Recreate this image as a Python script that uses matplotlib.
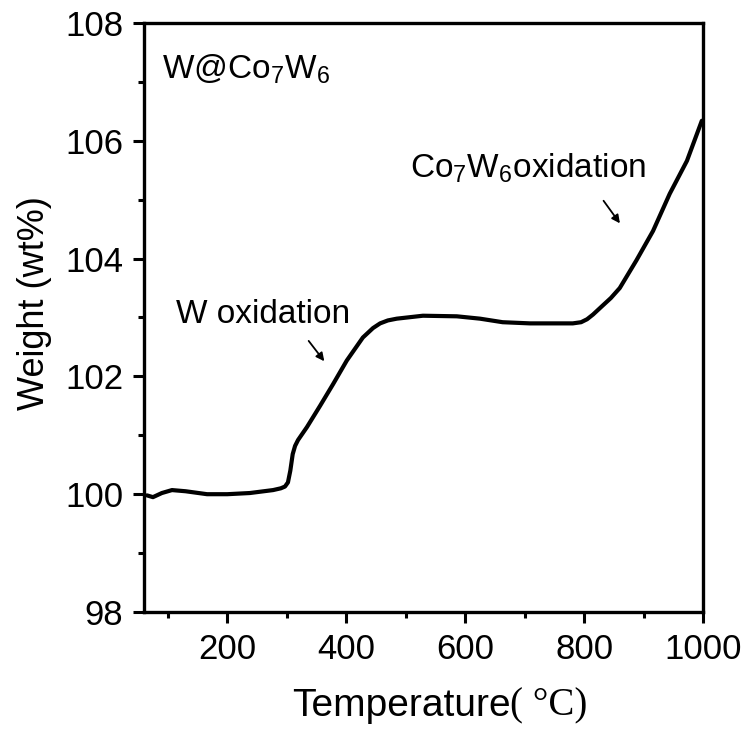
import numpy as np
import matplotlib.pyplot as plt
from matplotlib.ticker import MultipleLocator

plt.rcParams['font.family'] = ['Liberation Sans', 'DejaVu Sans']
plt.rcParams['mathtext.fontset'] = 'custom'
plt.rcParams['mathtext.rm'] = 'Liberation Sans'
plt.rcParams['mathtext.it'] = 'Liberation Sans:italic'

# TGA curve
temp = [65, 75, 90, 107, 130, 166, 200, 238, 277, 290, 297, 302, 306, 310, 314,
        319, 334, 356, 378, 401, 428, 445, 457, 470, 485, 529, 586, 625, 663,
        709, 747, 781, 795, 805, 815, 831, 845, 860, 888, 916, 944, 973, 998]
weight = [99.98, 99.95, 100.02, 100.07, 100.05, 100.0, 100.0, 100.02, 100.07,
          100.1, 100.13, 100.2, 100.4, 100.68, 100.82, 100.92, 101.14, 101.5,
          101.87, 102.27, 102.66, 102.82, 102.9, 102.95, 102.98, 103.03, 103.02,
          102.98, 102.92, 102.9, 102.9, 102.9, 102.92, 102.97, 103.05, 103.2,
          103.33, 103.5, 103.97, 104.47, 105.1, 105.66, 106.34]

fig = plt.figure(figsize=(7.49, 7.34), dpi=100)
ax = fig.add_axes([0.1923, 0.1662, 0.7463, 0.8025])

ax.plot(temp, weight, color='black', lw=3, solid_joinstyle='round', solid_capstyle='round')

ax.set_xlim(60, 1000)
ax.set_ylim(98, 108)
ax.xaxis.set_major_locator(MultipleLocator(200))
ax.xaxis.set_minor_locator(MultipleLocator(100))
ax.yaxis.set_major_locator(MultipleLocator(2))
ax.yaxis.set_minor_locator(MultipleLocator(1))

for s in ax.spines.values():
    s.set_linewidth(2.4)
ax.tick_params(which='major', direction='out', length=8, width=2.2, labelsize=25, pad=7)
ax.tick_params(which='minor', direction='out', length=4, width=2.2)

ax.set_ylabel('Weight (wt%)', fontsize=26)
ax.yaxis.set_label_coords(-0.165, 0.525)
xl = ax.set_xlabel('Temperature', fontsize=28, labelpad=16)
xl.set_x(0.46)
ax.annotate('( °C)', xy=(1, 0), xycoords=xl, va='bottom', ha='left',
            fontsize=28, family='Liberation Serif')

ax.text(90, 107.05, r'W@Co$_{\mathregular{7}}$W$_{\mathregular{6}}$', fontsize=24, va='baseline')
ax.text(113, 102.9, 'W oxidation', fontsize=24, va='baseline')
ax.text(507, 105.37, r'Co$_{\mathregular{7}}$W$_{\mathregular{6}}$oxidation', fontsize=24, va='baseline')

ax.annotate('', xy=(366, 102.22), xytext=(334, 102.64),
            arrowprops=dict(arrowstyle='-|>', color='black', lw=1.3, mutation_scale=12))
ax.annotate('', xy=(863, 104.56), xytext=(830, 105.02),
            arrowprops=dict(arrowstyle='-|>', color='black', lw=1.3, mutation_scale=12))

fig.savefig('out.png', dpi=100)
